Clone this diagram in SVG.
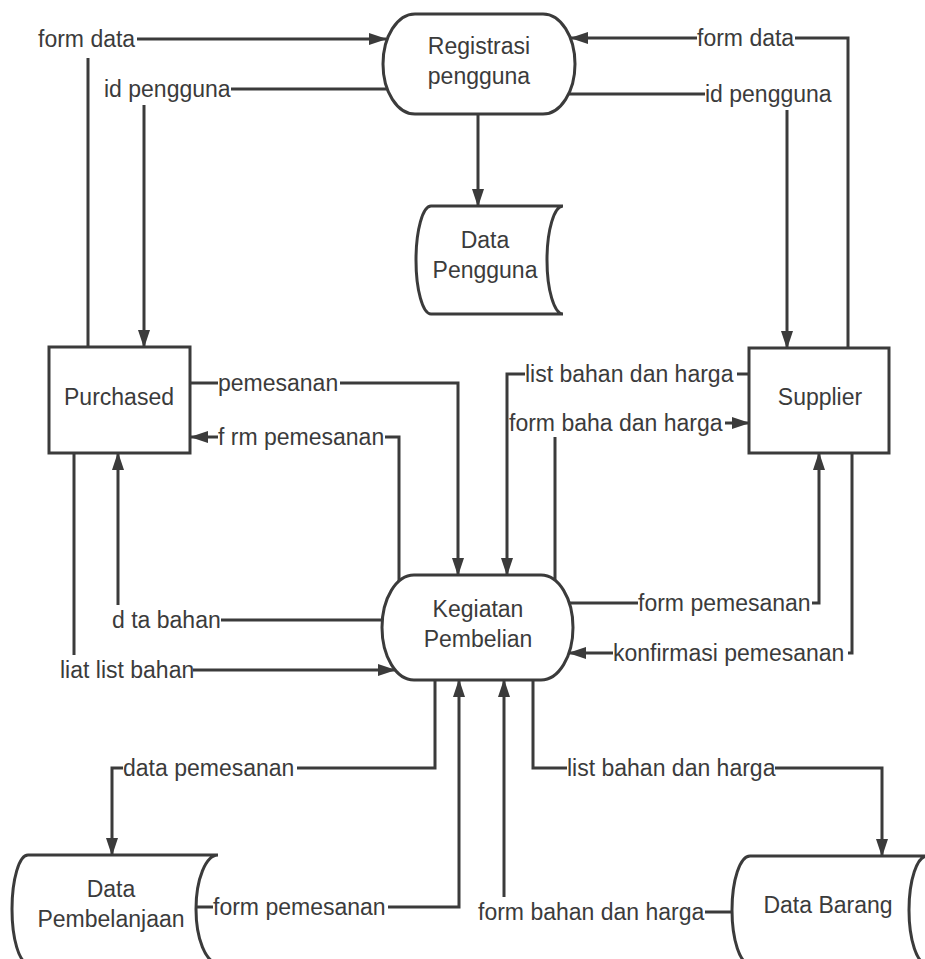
<svg xmlns="http://www.w3.org/2000/svg" width="925" height="959" viewBox="0 0 925 959">
  <defs>
    <marker id="arrow" markerUnits="userSpaceOnUse" markerWidth="20" markerHeight="14" refX="17" refY="6" orient="auto">
      <path d="M0,0 L18,6 L0,12 Z" fill="#3b3b3b"/>
    </marker>
    <style>
      .node{fill:#fff;stroke:#3b3b3b;stroke-width:3}
      .txt{font-family:"Liberation Sans",Arial,Helvetica,sans-serif;font-size:23px;fill:#3b3b3b}
      .mid{text-anchor:middle}
      .flow{fill:none;stroke:#3b3b3b;stroke-width:3}
      .arr{marker-end:url(#arrow)}
    </style>
  </defs>
  <rect width="925" height="959" fill="#fff"/>

  <!-- processes -->
  <g id="registrasi-pengguna">
    <rect class="node" x="383" y="14" width="192" height="100" rx="32" ry="50"/>
    <text class="txt mid" x="479" y="54">Registrasi</text>
    <text class="txt mid" x="479" y="84">pengguna</text>
  </g>
  <g id="kegiatan-pembelian">
    <rect class="node" x="382" y="575" width="191" height="105" rx="32" ry="52.5"/>
    <text class="txt mid" x="478" y="617">Kegiatan</text>
    <text class="txt mid" x="478" y="647">Pembelian</text>
  </g>

  <!-- external entities -->
  <g id="purchased">
    <rect class="node" x="49" y="347" width="141" height="106"/>
    <text class="txt mid" x="119" y="405">Purchased</text>
  </g>
  <g id="supplier">
    <rect class="node" x="749" y="348" width="140" height="105"/>
    <text class="txt mid" x="820" y="405">Supplier</text>
  </g>

  <!-- data stores -->
  <g id="data-pengguna">
    <path class="node" d="M431,206 H563 A16,54 0 0 0 563,314 H431 A15,54 0 0 1 431,206 Z"/>
    <text class="txt mid" x="485" y="248">Data</text>
    <text class="txt mid" x="485" y="278">Pengguna</text>
  </g>
  <g id="data-pembelanjaan">
    <path class="node" d="M28,855 H218 A22,54 0 0 0 218,963 H28 A16,54 0 0 1 28,855 Z"/>
    <text class="txt mid" x="111" y="897">Data</text>
    <text class="txt mid" x="111" y="927">Pembelanjaan</text>
  </g>
  <g id="data-barang">
    <path class="node" d="M750,856 H927 A18,54 0 0 0 927,964 H750 A18,54 0 0 1 750,856 Z"/>
    <text class="txt mid" x="828" y="913">Data Barang</text>
  </g>

  <!-- data flows -->
  <g id="connectors">
    <!-- Purchased -> Registrasi : form data -->
    <path class="flow" d="M88,347 V58"/>
    <path class="flow arr" d="M137,39 H386"/>
    <text class="txt" x="38" y="47">form data</text>

    <!-- Registrasi -> Purchased : id pengguna -->
    <path class="flow" d="M387,89 H231"/>
    <path class="flow arr" d="M144,105 V347"/>
    <text class="txt" x="104" y="97">id pengguna</text>

    <!-- Supplier -> Registrasi : form data -->
    <path class="flow" d="M848,348 V38 H795"/>
    <path class="flow arr" d="M697,38 H571"/>
    <text class="txt" x="697" y="46">form data</text>

    <!-- Registrasi -> Supplier : id pengguna -->
    <path class="flow" d="M569,94 H705"/>
    <path class="flow arr" d="M787,110 V348"/>
    <text class="txt" x="705" y="102">id pengguna</text>

    <!-- Registrasi -> Data Pengguna -->
    <path class="flow arr" d="M478,114 V206"/>

    <!-- Purchased -> Kegiatan : pemesanan -->
    <path class="flow" d="M190,383 H218"/>
    <path class="flow arr" d="M340,383 H458 V575"/>
    <text class="txt" x="218" y="391">pemesanan</text>

    <!-- Kegiatan -> Purchased : f rm pemesanan -->
    <path class="flow" d="M399,581 V437 H385"/>
    <path class="flow arr" d="M218,437 H191"/>
    <text class="txt" x="218" y="445">f rm pemesanan</text>

    <!-- Supplier -> Kegiatan : list bahan dan harga -->
    <path class="flow" d="M749,374 H737"/>
    <path class="flow arr" d="M525,374 H507 V575"/>
    <text class="txt" x="525" y="382">list bahan dan harga</text>

    <!-- Kegiatan -> Supplier : form baha dan harga -->
    <path class="flow" d="M555,580 V437"/>
    <path class="flow arr" d="M725,423 H749"/>
    <text class="txt" x="509" y="431">form baha dan harga</text>

    <!-- Kegiatan -> Purchased : d ta bahan -->
    <path class="flow" d="M383,620 H221"/>
    <path class="flow arr" d="M118,605 V453"/>
    <text class="txt" x="112" y="628">d ta bahan</text>

    <!-- Purchased -> Kegiatan : liat list bahan -->
    <path class="flow" d="M74,453 V655"/>
    <path class="flow arr" d="M193,670 H395"/>
    <text class="txt" x="60" y="678">liat list bahan</text>

    <!-- Kegiatan -> Supplier : form pemesanan -->
    <path class="flow" d="M569,603 H638"/>
    <path class="flow arr" d="M812,603 H819 V453"/>
    <text class="txt" x="638" y="611">form pemesanan</text>

    <!-- Supplier -> Kegiatan : konfirmasi pemesanan -->
    <path class="flow" d="M852,453 V653 H848"/>
    <path class="flow arr" d="M613,653 H569"/>
    <text class="txt" x="613" y="661">konfirmasi pemesanan</text>

    <!-- Kegiatan -> Data Pembelanjaan : data pemesanan -->
    <path class="flow" d="M435,680 V768 H297"/>
    <path class="flow arr" d="M123,768 H112 V855"/>
    <text class="txt" x="123" y="776">data pemesanan</text>

    <!-- Data Pembelanjaan -> Kegiatan : form pemesanan -->
    <path class="flow" d="M197,907 H213"/>
    <path class="flow arr" d="M388,907 H459 V680"/>
    <text class="txt" x="213" y="915">form pemesanan</text>

    <!-- Kegiatan -> Data Barang : list bahan dan harga -->
    <path class="flow" d="M533,680 V768 H567"/>
    <path class="flow arr" d="M775,768 H882 V856"/>
    <text class="txt" x="567" y="776">list bahan dan harga</text>

    <!-- Data Barang -> Kegiatan : form bahan dan harga -->
    <path class="flow" d="M733,912 H705"/>
    <path class="flow arr" d="M504,897 V680"/>
    <text class="txt" x="478" y="920">form bahan dan harga</text>
  </g>
</svg>
